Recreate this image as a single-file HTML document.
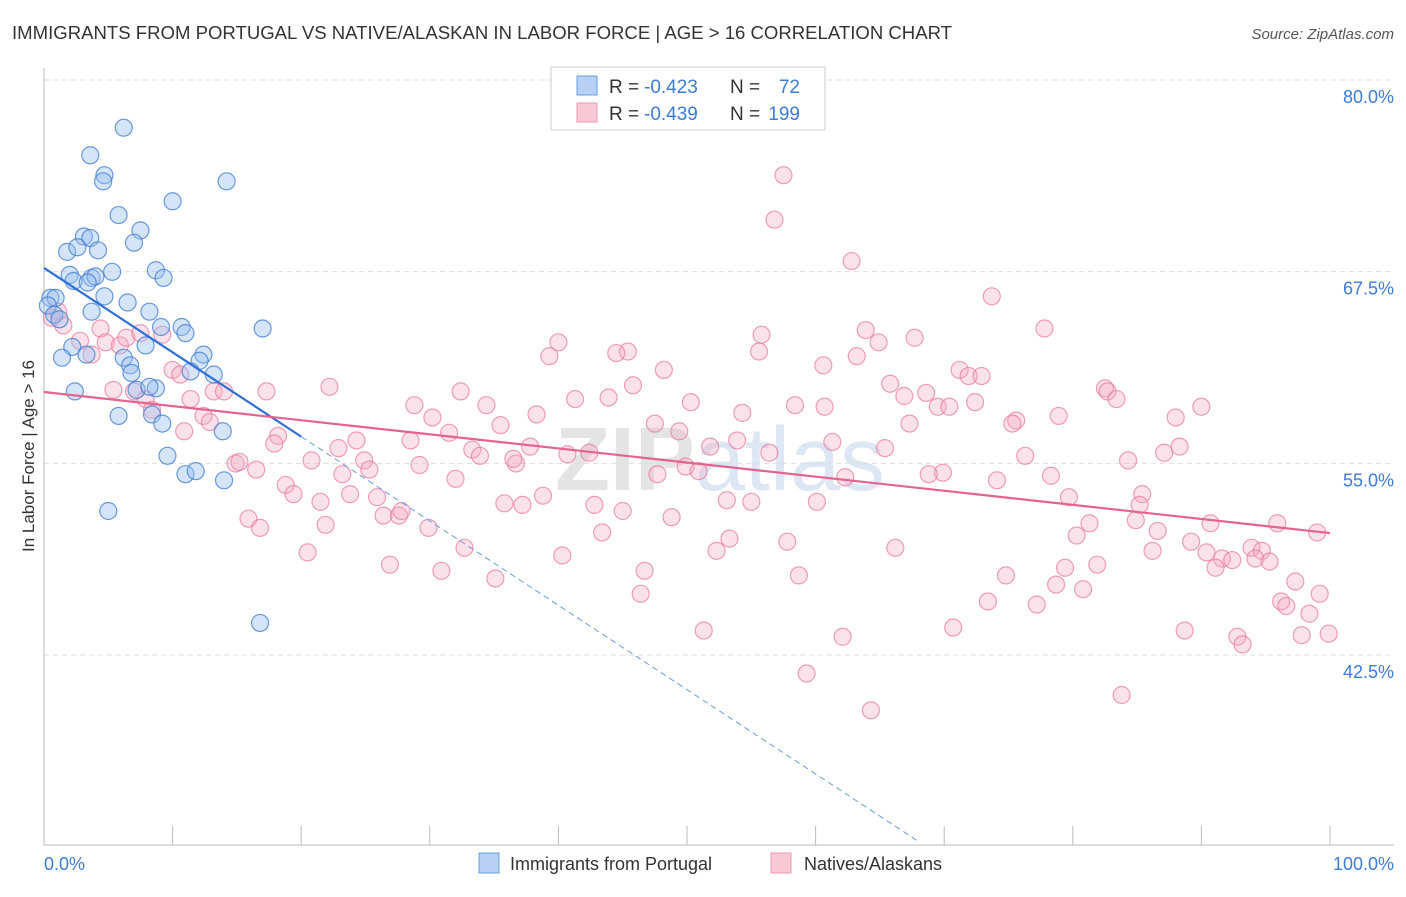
<!DOCTYPE html>
<html><head><meta charset="utf-8"><style>
body{margin:0;background:#fff;font-family:"Liberation Sans",sans-serif;}
svg text{font-family:"Liberation Sans",sans-serif;}
</style></head><body>
<svg id="chart" width="1406" height="892" xmlns="http://www.w3.org/2000/svg">
<text x="12" y="39" font-size="18" fill="#333" textLength="940" lengthAdjust="spacingAndGlyphs">IMMIGRANTS FROM PORTUGAL VS NATIVE/ALASKAN IN LABOR FORCE | AGE &gt; 16 CORRELATION CHART</text>
<text x="1394" y="39" font-size="15" fill="#555" text-anchor="end" font-style="italic">Source: ZipAtlas.com</text>
<text x="720" y="490" font-size="90" fill="#e4e4e4" text-anchor="middle" font-weight="bold">ZIP<tspan fill="#dde6f3" font-weight="normal">atlas</tspan></text>
<g id="grid"></g>
<g id="axes"></g>
<g id="pink"></g>
<g id="blue"></g>
<g id="trends"></g>
<text transform="translate(34,456) rotate(-90)" font-size="17" fill="#333" text-anchor="middle">In Labor Force | Age &gt; 16</text>
<text x="44" y="870" font-size="18" fill="#3d7bd9">0.0%</text>
<text x="1394" y="870" font-size="18" fill="#3d7bd9" text-anchor="end">100.0%</text>
<g>
<rect x="551" y="67" width="274" height="63" fill="#fff" stroke="#ccc"/>
<rect x="577" y="76" width="20" height="19" fill="#b7d0f3" stroke="#6a9de0"/>
<rect x="577" y="103" width="20" height="19" fill="#f8c8d7" stroke="#e99ab3"/>
<text x="609" y="93" font-size="19" fill="#333">R =</text>
<text x="644" y="93" font-size="19" fill="#3d7bd9">-0.423</text>
<text x="730" y="93" font-size="19" fill="#333">N =</text>
<text x="800" y="93" font-size="19" fill="#3d7bd9" text-anchor="end">72</text>
<text x="609" y="120" font-size="19" fill="#333">R =</text>
<text x="644" y="120" font-size="19" fill="#3d7bd9">-0.439</text>
<text x="730" y="120" font-size="19" fill="#333">N =</text>
<text x="800" y="120" font-size="19" fill="#3d7bd9" text-anchor="end">199</text>
</g>
<g>
<rect x="479" y="853" width="20" height="20" fill="#b7d0f3" stroke="#6a9de0"/>
<text x="510" y="870" font-size="18" fill="#333">Immigrants from Portugal</text>
<rect x="771" y="853" width="20" height="20" fill="#f8c8d7" stroke="#e99ab3"/>
<text x="804" y="870" font-size="18" fill="#333">Natives/Alaskans</text>
</g>
</svg>
<script>
const yTicks=[80,67.5,55,42.5];
const yTickLabels=["80.0%","67.5%","55.0%","42.5%"];
const blueX=[6.2,3.6,4.7,4.6,14.2,10.0,5.8,7.5,3.1,3.6,7.0,1.8,2.6,4.2,8.7,9.3,2.0,5.3,2.3,3.7,4.0,3.4,4.7,6.5,0.5,0.9,0.3,8.2,3.7,0.8,1.2,17.0,9.1,10.7,11.0,7.9,2.2,3.3,1.4,12.4,12.1,6.2,6.7,6.8,11.4,13.2,2.4,7.2,8.7,8.2,5.8,8.4,9.2,13.9,9.6,11.0,11.8,14.0,5.0,16.8];
const blueY=[78.0,76.2,74.9,74.5,74.5,73.2,72.3,71.3,70.9,70.8,70.5,69.9,70.2,70.0,68.7,68.2,68.4,68.6,68.0,68.2,68.3,67.9,67.0,66.6,66.9,66.9,66.4,66.0,66.0,65.8,65.5,64.9,65.0,65.0,64.6,63.8,63.7,63.2,63.0,63.2,62.8,63.0,62.5,62.0,62.1,61.9,60.8,60.9,61.0,61.1,59.2,59.3,58.7,58.2,56.6,55.4,55.6,55.0,53.0,45.7];
const pinkX=[57.5,56.8,62.8,73.7,77.8,63.9,55.8,67.7,64.9,40.0,45.4,44.5,55.6,39.3,63.2,60.6,48.2,71.2,71.9,72.9,65.8,45.8,22.2,32.4,82.5,82.7,68.6,66.9,83.4,41.3,43.9,50.3,72.4,28.8,34.4,58.4,60.7,69.5,70.4,90.0,38.3,30.2,54.3,78.9,88.0,75.6,75.3,67.3,35.5,47.5,49.4,31.5,53.9,61.3,88.3,87.1,51.8,37.8,33.3,65.4,42.4,56.4,76.3,24.3,22.9,28.5,33.9,36.7,36.5,24.9,20.8,29.2,40.7,84.3,49.9,50.9,47.7,69.9,68.8,62.3,78.3,25.3,23.2,32.0,74.1,18.8,53.1,55.0,60.1,42.8,38.8,23.8,25.9,35.8,37.2,21.5,19.4,79.7,85.4,85.2,45.0,48.8,26.4,27.6,27.8,29.9,21.9,81.3,84.9,90.7,95.9,86.6,43.4,53.3,57.8,80.3,89.2,99.0,32.7,52.3,66.2,86.2,90.4,91.6,93.9,94.7,94.2,95.3,92.4,91.1,81.9,79.4,40.3,20.5,26.9,30.9,35.1,46.7,58.7,74.8,78.7,80.8,97.3,46.4,73.4,77.2,96.2,96.6,99.2,98.4,70.7,51.3,62.1,88.7,92.8,93.2,97.8,99.9,59.3,83.8,64.3,0.6,1.1,1.5,4.4,3.7,2.8,4.8,5.9,6.4,7.5,9.2,10.0,10.6,5.4,7.0,7.9,11.4,13.2,14.0,12.4,12.9,8.4,10.9,17.3,18.2,17.9,14.9,15.2,16.5,15.9,16.8];
const pinkY=[74.9,72.0,69.3,67.0,64.9,64.8,64.5,64.3,64.0,64.0,63.4,63.3,63.4,63.1,63.1,62.5,62.2,62.2,61.8,61.8,61.3,61.2,61.1,60.8,61.0,60.8,60.7,60.5,60.3,60.3,60.4,60.1,60.1,59.9,59.9,59.9,59.8,59.8,59.8,59.8,59.3,59.1,59.4,59.2,59.1,58.9,58.7,58.7,58.6,58.7,58.2,58.1,57.6,57.5,57.2,56.8,57.2,57.2,57.0,57.1,56.8,56.8,56.6,57.6,57.1,57.6,56.6,56.1,56.4,56.3,56.3,56.0,56.7,56.3,55.9,55.6,55.4,55.5,55.4,55.2,55.3,55.7,55.4,55.1,55.0,54.7,53.7,53.6,53.6,53.4,54.0,54.1,53.9,53.5,53.4,53.6,54.1,53.9,54.1,53.4,53.0,52.6,52.7,52.7,53.0,51.9,52.1,52.2,52.4,52.2,52.2,51.7,51.6,51.2,51.0,51.4,51.0,51.6,50.6,50.4,50.6,50.4,50.3,49.9,50.6,50.4,49.9,49.7,49.8,49.3,49.5,49.3,50.1,50.3,49.5,49.1,48.6,49.1,48.8,48.8,48.2,47.9,48.4,47.6,47.1,46.9,47.1,46.8,47.6,46.3,45.4,45.2,44.8,45.2,44.8,44.3,44.9,45.0,42.4,41.0,40.0,65.6,66.0,65.1,64.9,63.2,64.1,64.0,63.8,64.3,64.6,64.5,62.2,61.9,60.9,60.8,60.3,60.3,60.8,60.8,59.2,58.8,59.6,58.2,60.8,57.9,57.4,56.1,56.2,55.7,52.5,51.9];
const blueTrend=[68.85,-0.55];
const pinkTrend=[60.76,-0.092];
const NS="http://www.w3.org/2000/svg";
const X0=44,X1=1330,YTOP=97,YBOT=672;
function sx(v){return X0+(X1-X0)*v/100;}
function sy(v){return YTOP+(80-v)*(YBOT-YTOP)/37.5;}
function mk(tag,attrs,parent){const e=document.createElementNS(NS,tag);for(const k in attrs)e.setAttribute(k,attrs[k]);parent.appendChild(e);return e;}
const grid=document.getElementById('grid'),axes=document.getElementById('axes');
yTicks.forEach((t,i)=>{
 const l=mk('line',{x1:X0,x2:1394,y1:sy(t)-17,y2:sy(t)-17,stroke:'#ddd','stroke-dasharray':'5,4'},grid);
 
 
 const tx=mk('text',{x:1394,y:sy(t)+6,'font-size':18,fill:'#3d7bd9','text-anchor':'end'},axes);
 tx.textContent=yTickLabels[i];
 
 
});
const ax=mk('line',{x1:X0,x2:X0,y1:68,y2:845,stroke:'#bbb'},axes);


const bx=mk('line',{x1:X0,x2:1394,y1:845,y2:845,stroke:'#bbb'},axes);


for(let i=0;i<=10;i++){
 const t=mk('line',{x1:sx(i*10),x2:sx(i*10),y1:826,y2:845,stroke:'#bbb'},axes);
 
 
}
function pts(xs,ys,g,fill,stroke,name){
 xs.forEach((x,i)=>{
  const c=mk('circle',{cx:sx(x),cy:sy(ys[i]),r:8.5,fill:fill,stroke:stroke,'stroke-width':1.2},g);
  
  
 });
}
pts(pinkX,pinkY,document.getElementById('pink'),'rgba(244,170,196,0.35)','rgba(232,120,155,0.7)','native-point');
pts(blueX,blueY,document.getElementById('blue'),'rgba(150,190,240,0.4)','rgba(60,120,210,0.75)','portugal-point');
const tr=document.getElementById('trends');
const bEnd=20,bDash=68.1;
const b1=mk('line',{x1:sx(0),y1:sy(blueTrend[0]),x2:sx(bEnd),y2:sy(blueTrend[0]+blueTrend[1]*bEnd),stroke:'#2f6fd6','stroke-width':2.2},tr);


const b2=mk('line',{x1:sx(bEnd),y1:sy(blueTrend[0]+blueTrend[1]*bEnd),x2:sx(bDash),y2:sy(blueTrend[0]+blueTrend[1]*bDash),stroke:'#6a9de0','stroke-width':1,'stroke-dasharray':'6,4'},tr);


const p1=mk('line',{x1:sx(0),y1:sy(pinkTrend[0]),x2:sx(100),y2:sy(pinkTrend[0]+pinkTrend[1]*100),stroke:'#e4638f','stroke-width':2.2},tr);


</script>
</body></html>
